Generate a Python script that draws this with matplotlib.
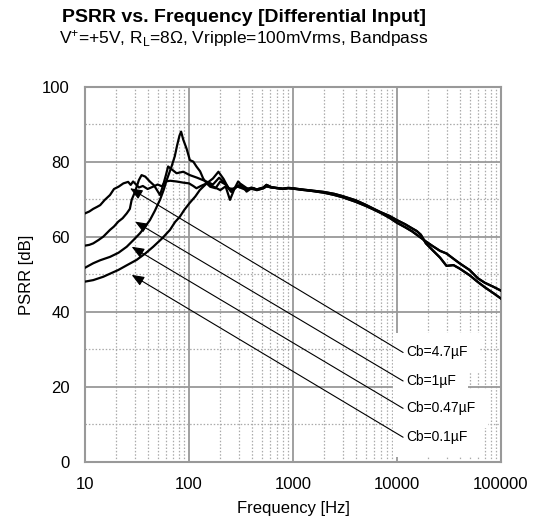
import matplotlib
matplotlib.use("Agg")
import matplotlib.pyplot as plt
from matplotlib.ticker import FixedLocator, LogLocator, NullFormatter

plt.rcParams["font.family"] = ["Liberation Sans", "DejaVu Sans"]
plt.rcParams["mathtext.fontset"] = "custom"
plt.rcParams["mathtext.rm"] = "Liberation Sans"
plt.rcParams["mathtext.it"] = "Liberation Sans:italic"

# low-frequency part of each curve (Hz, dB)
F_47U = [10, 11, 12, 13, 14, 15.5, 17.4, 19, 21, 23.4, 26, 27.5, 29, 31, 33, 36,
         40, 45, 50, 55, 59, 66, 76, 88, 100, 110, 118, 130, 148, 170, 200, 225,
         248, 275, 297, 330, 358, 400]
DB_47U = [66.3, 66.8, 67.5, 68.0, 68.5, 69.9, 71.2, 72.8, 73.4, 74.3, 74.7, 73.9,
          74.8, 74.0, 73.2, 73.6, 72.8, 73.4, 74.0, 73.5, 74.8, 75.0, 74.8, 74.5,
          74.3, 73.6, 73.0, 73.6, 74.3, 73.5, 72.5, 73.5, 69.9, 73.0, 74.8, 73.5,
          72.1, 73.0]

F_1U = [10, 11, 12, 13.5, 15, 17.4, 19, 20.9, 23, 25.2, 27, 28.1, 30, 31.4, 33,
        35, 38, 42, 46, 49, 52.6, 56, 60, 63, 70, 76, 88, 102, 120, 147, 170, 195,
        220, 250, 280, 320, 370, 420]
DB_1U = [57.7, 57.9, 58.3, 59.2, 60.1, 61.9, 62.8, 64.1, 65.0, 66.3, 67.5, 69.9,
         71.8, 73.4, 75.2, 76.5, 76.1, 74.8, 73.8, 72.6, 71.2, 73.5, 76.5, 78.8,
         77.8, 77.0, 77.4, 76.5, 75.8, 74.8, 74.0, 75.8, 74.5, 72.5, 73.2, 74.0,
         72.8, 73.0]

F_047U = [10, 12, 14, 17.4, 21, 25.2, 30, 33.8, 38, 42.1, 47, 52.6, 57, 61.1, 68,
          73, 77, 81, 84, 88, 95, 102, 110, 118, 128, 137, 148, 160, 180, 200,
          225, 255, 290, 350, 400]
DB_047U = [51.8, 53.0, 53.8, 54.7, 55.8, 57.4, 59.5, 61.0, 62.8, 64.5, 67.0, 69.9,
           72.5, 75.2, 78.8, 81.5, 84.5, 87.0, 88.1, 86.0, 83.5, 80.5, 80.1, 78.8,
           77.5, 75.6, 74.3, 73.4, 73.0, 74.8, 74.0, 72.0, 73.5, 72.6, 73.2]

F_01U = [10, 12, 15, 18, 20.9, 25, 31.4, 38, 45.3, 55, 65.7, 73.5, 81.7, 90, 101,
         115, 127, 148, 170, 192, 215, 240, 270, 300, 340, 400]
DB_01U = [48.1, 48.5, 49.4, 50.4, 51.2, 52.4, 53.9, 55.6, 57.4, 59.6, 61.9, 64.0,
          65.4, 67.2, 69.0, 70.8, 72.5, 74.3, 75.6, 77.4, 75.5, 73.0, 72.8, 73.8,
          73.0, 72.8]

# high-frequency part, two slightly different traces
F_HF = [450, 520, 556, 620, 700, 800, 900, 1000, 1200, 1500, 2000, 2500, 3000,
        4000, 5000, 6000, 7000, 8500, 10000, 12000, 14000, 15500, 17000, 19000,
        22000, 26000, 30000, 35000, 40000, 50000, 60000, 70000, 85000, 100000]
DB_HF_A = [72.7, 73.2, 73.9, 73.3, 73.0, 72.9, 73.1, 73.0, 72.7, 72.4, 72.0, 71.5,
           70.9, 69.8, 68.6, 67.5, 66.6, 65.6, 64.5, 63.4, 62.3, 61.6, 60.6, 58.3,
           56.5, 54.5, 52.3, 52.5, 51.6, 49.8, 48.0, 46.6, 45.0, 43.6]
DB_HF_B = [72.5, 73.0, 73.5, 73.2, 73.1, 72.8, 73.0, 72.9, 72.6, 72.3, 71.8, 71.2,
           70.6, 69.4, 68.3, 67.3, 66.4, 65.1, 63.8, 62.6, 61.5, 60.6, 59.8, 58.8,
           57.6, 56.3, 55.6, 54.2, 53.0, 51.2, 49.0, 47.8, 46.7, 45.7]

LABELS = ["Cb=4.7µF", "Cb=1µF", "Cb=0.47µF", "Cb=0.1µF"]
ARROW_TIP_F = [27.1, 30.3, 28.1, 28.1]
ARROW_TIP_DB = [73.0, 64.1, 57.4, 49.9]
LABEL_F = [12200, 12200, 12200, 12200]
LABEL_DB = [29.2, 21.6, 14.3, 6.6]

curves = [(F_47U, DB_47U, DB_HF_A), (F_1U, DB_1U, DB_HF_B),
          (F_047U, DB_047U, DB_HF_A), (F_01U, DB_01U, DB_HF_B)]

fig = plt.figure(figsize=(5.38, 5.26), dpi=100)
ax = fig.add_axes([0.158, 0.1217, 0.773, 0.7129])

for f_lo, db_lo, db_hi in curves:
    ax.plot(f_lo + F_HF, db_lo + db_hi, color="black", lw=1.6, zorder=4,
            solid_joinstyle="round")

ax.set_xscale("log")
ax.set_xlim(10, 100000)
ax.set_ylim(0, 100)
ax.xaxis.set_minor_locator(LogLocator(base=10, subs=range(2, 10), numticks=20))
ax.xaxis.set_minor_formatter(NullFormatter())
ax.set_xticks([10, 100, 1000, 10000, 100000])
ax.set_xticklabels(["10", "100", "1000", "10000", "100000"])
ax.yaxis.set_major_locator(FixedLocator(range(0, 101, 20)))
ax.yaxis.set_minor_locator(FixedLocator(range(10, 100, 20)))

ax.grid(which="major", color="#999999", lw=1.3, zorder=1)
ax.grid(which="minor", color="#aaaaaa", lw=0.9, ls=(0, (1.2, 1.5)), zorder=1)
ax.set_axisbelow(True)
for s in ax.spines.values():
    s.set_color("#999999")
    s.set_linewidth(1.5)
ax.tick_params(which="both", length=0, labelsize=12, pad=11)

for lab, tf, tdb, lf, ldb in zip(LABELS, ARROW_TIP_F, ARROW_TIP_DB, LABEL_F, LABEL_DB):
    ax.text(lf, ldb, lab, fontsize=10, ha="left", va="center", zorder=2.5,
            bbox=dict(boxstyle="square,pad=0.9", fc="white", ec="none"))
    ax.annotate("", xy=(tf, tdb), xytext=(lf * 0.94, ldb), zorder=3,
                arrowprops=dict(arrowstyle="-|>,head_length=0.75,head_width=0.3",
                                color="black", lw=0.8, shrinkA=0, shrinkB=0))

ax.set_xlabel("Frequency [Hz]", fontsize=12, labelpad=6)
ax.set_ylabel("PSRR [dB]", fontsize=12, labelpad=6)

fig.text(0.453, 0.967, "PSRR vs. Frequency [Differential Input]", fontsize=14,
         fontweight="bold", ha="center", va="center")
fig.text(0.453, 0.926, "V$^{+}$=+5V, R$_{\\mathrm{L}}$=8Ω, Vripple=100mVrms, Bandpass",
         fontsize=12.5, ha="center", va="center")

fig.savefig("out.png", dpi=100)
